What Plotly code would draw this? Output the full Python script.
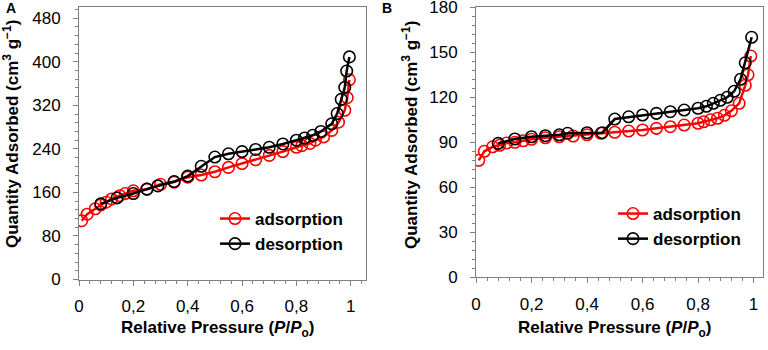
import plotly.graph_objects as go

# Panel A data
a_ads_x = [0.01, 0.03, 0.06, 0.08, 0.10, 0.12, 0.15, 0.17, 0.20, 0.25, 0.30, 0.35, 0.40, 0.45, 0.50,
           0.55, 0.60, 0.65, 0.70, 0.75, 0.80, 0.82, 0.85, 0.87, 0.90, 0.93, 0.955, 0.978, 0.987, 0.995]
a_ads_y = [108, 120, 130, 137, 142, 148, 154, 158, 163, 166, 175, 179, 188, 192, 198,
           206, 213, 220, 228, 235, 243, 246, 250, 256, 262, 274, 289, 311, 334, 367]
a_des_x = [0.995, 0.985, 0.978, 0.965, 0.95, 0.93, 0.89, 0.86, 0.83, 0.80, 0.75, 0.70, 0.65, 0.60,
           0.55, 0.50, 0.45, 0.40, 0.35, 0.29, 0.25, 0.20, 0.14, 0.08]
a_des_y = [409, 383, 353, 331, 305, 286, 272, 265, 260, 256, 249, 243, 239, 235,
           231, 225, 208, 190, 180, 172, 166, 158, 150, 139]

# Panel B data
b_ads_x = [0.01, 0.03, 0.06, 0.085, 0.11, 0.14, 0.17, 0.20, 0.25, 0.30, 0.35, 0.40, 0.45, 0.50, 0.55,
           0.60, 0.65, 0.70, 0.75, 0.80, 0.82, 0.845, 0.87, 0.895, 0.92, 0.948, 0.97, 0.98, 0.99]
b_ads_y = [78, 84, 87, 88, 89.5, 90, 91, 92, 93, 93.7, 94.2, 95, 96, 96.7, 97.5,
           98.2, 99.3, 100.4, 101.5, 102.7, 103.7, 105, 106, 108, 111, 116, 128, 135, 147.5]
b_des_x = [0.993, 0.97, 0.953, 0.93, 0.905, 0.88, 0.855, 0.83, 0.80, 0.75, 0.70, 0.65, 0.60, 0.55,
           0.50, 0.455, 0.40, 0.33, 0.30, 0.25, 0.20, 0.14, 0.08]
b_des_y = [160, 143, 132, 124, 120, 118, 116, 114, 112.7, 111.5, 110.4, 109.3, 108.2, 107,
           105.5, 96.4, 96.4, 96, 95, 94.4, 93.7, 92.2, 89.3]

names = ["adsorption", "desorption"]
colors = ["#ff0000", "#000000"]
FONT = "Liberation Sans, Arial, sans-serif"
AXC = "#808080"

fig = go.Figure()

def add(x, y, name, color, xa, ya, legend, show=True):
    fig.add_trace(go.Scatter(
        x=x, y=y, name=name, mode="lines+markers",
        line=dict(color=color, width=2.5),
        marker=dict(symbol="circle-open", size=11.5, color=color, line=dict(width=1.6, color=color)),
        xaxis=xa, yaxis=ya, legend=legend, showlegend=show))

add(a_ads_x, a_ads_y, names[0], colors[0], "x", "y", "legend")
add(a_des_x, a_des_y, names[1], colors[1], "x", "y", "legend")
add(b_ads_x, b_ads_y, names[0], colors[0], "x2", "y2", "legend2")
add(b_des_x, b_des_y, names[1], colors[1], "x2", "y2", "legend2")

W, H = 768, 350
def px_x(p): return p / W
def px_y(p): return 1 - p / H

axis_common = dict(showline=True, linecolor=AXC, linewidth=1, mirror=True,
                   ticks="outside", ticklen=5, tickcolor=AXC, tickwidth=1,
                   showgrid=False, zeroline=False, automargin=False,
                   tickfont=dict(family=FONT, size=17, color="#000"),
                   ticklabeloverflow="allow")
xcommon = dict(axis_common, ticklabelstandoff=6)
ycommon = dict(axis_common, ticklabelstandoff=9)

fig.update_layout(
    width=W, height=H,
    margin=dict(l=0, r=0, t=0, b=0),
    paper_bgcolor="white", plot_bgcolor="white",
    separators=",.",
    font=dict(family=FONT, color="#000"),
    xaxis=dict(domain=[px_x(79), px_x(365.7)], range=[0, 1.055], tickvals=[0, 0.2, 0.4, 0.6, 0.8, 1],
               minor=dict(dtick=0.04, tick0=0, ticks="outside", ticklen=3, tickcolor=AXC),
               anchor="y", **xcommon),
    yaxis=dict(domain=[px_y(279.5), px_y(7.4)], range=[0, 500], tickvals=[0, 80, 160, 240, 320, 400, 480],
               minor=dict(dtick=16, tick0=0, ticks="outside", ticklen=3, tickcolor=AXC),
               anchor="x", **ycommon),
    xaxis2=dict(domain=[px_x(476), px_x(763.3)], range=[0, 1.035], tickvals=[0, 0.2, 0.4, 0.6, 0.8, 1],
                minor=dict(dtick=0.04, tick0=0, ticks="outside", ticklen=3, tickcolor=AXC),
                anchor="y2", **xcommon),
    yaxis2=dict(domain=[px_y(277.3), px_y(7.3)], range=[0, 180], tickvals=[0, 30, 60, 90, 120, 150, 180],
                minor=dict(dtick=6, tick0=0, ticks="outside", ticklen=3, tickcolor=AXC),
                anchor="x2", **ycommon),
    legend=dict(x=px_x(215), y=px_y(201), xanchor="left", yanchor="top",
                font=dict(family=FONT, size=17, color="#000", weight="bold"),
                bgcolor="rgba(0,0,0,0)", tracegroupgap=0, itemwidth=30),
    legend2=dict(x=px_x(613), y=px_y(196), xanchor="left", yanchor="top",
                 font=dict(family=FONT, size=17, color="#000", weight="bold"),
                 bgcolor="rgba(0,0,0,0)", tracegroupgap=0, itemwidth=30),
)

xtitle = "<b>Relative Pressure (<i>P</i>/<i>P</i><sub>o</sub>)</b>"
ytitle = "<b>Quantity Adsorbed (cm<sup>3</sup> g<sup>−1</sup>)</b>"
ann = [
    dict(x=px_x(217.5), y=px_y(329), text=xtitle, font=dict(size=17)),
    dict(x=px_x(614), y=px_y(329), text=xtitle, font=dict(size=17)),
    dict(x=px_x(11), y=px_y(134), text=ytitle, textangle=-90, font=dict(size=17)),
    dict(x=px_x(410), y=px_y(135), text=ytitle, textangle=-90, font=dict(size=17)),
    dict(x=px_x(11), y=px_y(8), text="<b>A</b>", font=dict(size=14)),
    dict(x=px_x(387), y=px_y(8), text="<b>B</b>", font=dict(size=14)),
]
for a in ann:
    a.update(xref="paper", yref="paper", showarrow=False, xanchor="center", yanchor="middle")
    a["font"].update(family=FONT, color="#000")
    fig.add_annotation(**a)

fig.write_html("out.html", config={"displayModeBar": False},
               post_script="document.body.style.margin='0';document.body.style.overflow='hidden';")
